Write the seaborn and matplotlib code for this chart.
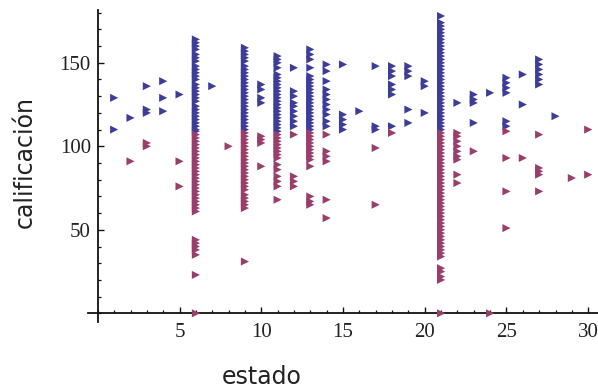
import numpy as np
import pandas as pd
import matplotlib
matplotlib.use("Agg")
import matplotlib.pyplot as plt
from matplotlib.ticker import MultipleLocator
import seaborn as sns

# Estados 1..30 and the grades recorded in each, split into the two groups
estados = list(range(1, 31))

calif_azul = [
    [129, 110],
    [117],
    [136, 122, 120],
    [139, 129, 121],
    [131],
    [164, 162, 160, 158, 155, 153, 151, 148, 146, 144, 142, 140, 137, 135,
     133, 131, 129, 127, 124, 122, 120, 118, 116, 114, 112, 110, 109],
    [136],
    [],
    [159, 157, 155, 153, 151, 148, 146, 144, 142, 140, 138, 136, 134, 132,
     130, 128, 126, 124, 122, 120, 118, 116, 114, 112, 110],
    [137, 134, 129, 126],
    [154, 152, 150, 147, 143, 141, 139, 137, 135, 133, 131, 129, 127, 125,
     123, 121, 119, 117, 115, 113, 111, 109],
    [147, 133, 130, 126, 124, 121, 118, 115, 112],
    [158, 155, 152, 147, 142, 140, 138, 136, 134, 132, 130, 128, 126, 124,
     122, 120, 118, 116, 114, 112, 110],
    [149, 145, 139, 134, 131, 128, 125, 122, 119, 115, 112],
    [149, 119, 116, 113, 110],
    [121],
    [148, 112, 110],
    [148, 145, 142, 137, 134, 131, 112],
    [148, 145, 142, 122, 114],
    [139, 136, 120],
    [178, 174, 172, 170, 168, 166, 164, 162, 160, 158, 156, 154, 152, 150,
     148, 146, 144, 142, 140, 138, 136, 134, 132, 130, 128, 126, 124, 122,
     120, 118, 116, 114, 112, 110],
    [126],
    [131, 128, 126, 114],
    [132],
    [141, 138, 135, 132, 115, 112],
    [143, 125],
    [152, 149, 146, 143, 140, 137],
    [118],
    [],
    [],
]

calif_morado = [
    [],
    [91],
    [102, 100],
    [],
    [91, 76],
    [107, 105, 103, 101, 99, 97, 95, 93, 91, 89, 87, 85, 83, 81, 79, 77,
     75, 73, 71, 69, 67, 65, 63, 61, 44, 42, 40, 38, 35, 23, 0],
    [],
    [100],
    [108, 106, 104, 102, 100, 98, 96, 94, 92, 90, 88, 86, 84, 82, 80, 78,
     76, 74, 71, 69, 67, 65, 63, 31],
    [106, 104, 102, 88],
    [107, 105, 103, 101, 99, 97, 95, 93, 89, 86, 82, 79, 76, 68],
    [107, 82, 79, 76],
    [108, 106, 104, 102, 100, 98, 96, 94, 92, 88, 70, 67, 65],
    [107, 97, 94, 91, 68, 57],
    [],
    [],
    [99, 65],
    [108],
    [],
    [],
    [108, 106, 104, 102, 100, 98, 96, 94, 92, 90, 88, 86, 84, 82, 80, 78,
     76, 74, 72, 70, 68, 66, 64, 62, 60, 58, 56, 54, 52, 50, 48, 46, 44,
     42, 40, 38, 36, 34, 27, 25, 22, 20, 0],
    [108, 106, 103, 100, 97, 94, 92, 83, 78],
    [97],
    [0],
    [109, 93, 73, 51],
    [93],
    [107, 87, 85, 83, 73],
    [],
    [81],
    [110, 83],
]

color_azul = "#3d3d99"
color_morado = "#993d6b"

rows = []
for grupo, valores in (("azul", calif_azul), ("morado", calif_morado)):
    for e, lista in zip(estados, valores):
        for c in lista:
            rows.append({"estado": e, "calificacion": c, "grupo": grupo})
df = pd.DataFrame(rows)

sns.set_style("white")
plt.rcParams["font.family"] = ["DejaVu Sans"]

fig = plt.figure(figsize=(5.98, 3.92), dpi=100)
W, H = 598, 392
ax = fig.add_axes([88 / W, (H - 322) / H, 510 / W, 312 / H])

sns.scatterplot(
    data=df, x="estado", y="calificacion", hue="grupo",
    palette={"azul": color_azul, "morado": color_morado},
    marker=">", s=34, linewidth=0, legend=False, ax=ax,
    zorder=3, clip_on=False,
)

ax.set_xlim(-0.6, 30.6)
ax.set_ylim(-5.2, 181.6)

# Axes crossing at the origin
for side in ("top", "right"):
    ax.spines[side].set_visible(False)
for side in ("left", "bottom"):
    ax.spines[side].set_position(("data", 0))
    ax.spines[side].set_linewidth(1.3)
    ax.spines[side].set_color("#111111")

ax.set_xticks([5, 10, 15, 20, 25, 30])
ax.set_yticks([50, 100, 150])
ax.xaxis.set_minor_locator(MultipleLocator(1))
ax.yaxis.set_minor_locator(MultipleLocator(10))

ax.tick_params(which="both", bottom=True, left=True, top=False, right=False)
ax.tick_params(which="major", direction="in", length=4.5, width=1.0,
               color="#111111", labelsize=15, labelcolor="#222222")
ax.tick_params(which="minor", direction="in", length=2.5, width=0.9,
               color="#111111")
ax.tick_params(axis="x", which="major", pad=7)
ax.tick_params(axis="y", which="major", pad=5)
for lab in ax.get_xticklabels() + ax.get_yticklabels():
    lab.set_fontfamily("Liberation Serif")

ax.set_xlabel("")
ax.set_ylabel("")
fig.text(262 / W, 1 - 377 / H, "estado", ha="center", va="center",
         fontsize=17, color="#222222")
fig.text(25 / W, 1 - 162 / H, "calificación", ha="center", va="center",
         rotation=90, fontsize=17, color="#222222")

fig.savefig("out.png", dpi=100)
